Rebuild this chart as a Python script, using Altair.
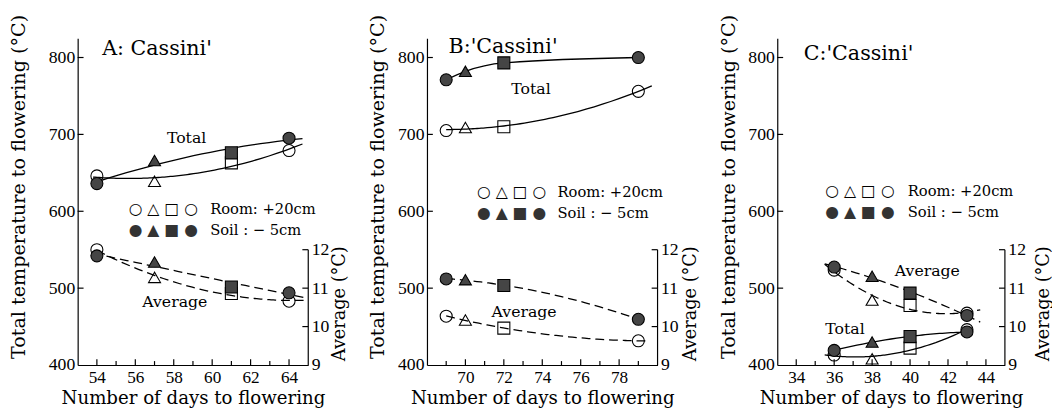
import altair as alt
import pandas as pd

# ---------------- data ----------------
panel_names = ["A: Cassini'", "B:'Cassini'", "C:'Cassini'"]
marker_keys = ["circle1", "triangle", "square", "circle2"]
locations = ["Room", "Soil"]

A_days = [54, 57, 61, 64]
A_room_total = [646, 639, 663, 679]
A_soil_total = [636, 666, 676, 695]
A_room_avg = [12.0, 11.28, 10.86, 10.66]
A_soil_avg = [11.84, 11.68, 11.03, 10.88]

B_days = [69, 70, 72, 79]
B_room_total = [705, 709, 710, 756]
B_soil_total = [771, 782, 793, 800]
B_room_avg = [10.27, 10.17, 9.96, 9.63]
B_soil_avg = [11.24, 11.22, 11.07, 10.19]

C_days = [36, 38, 40, 43]
C_room_total = [413, 408, 422, 446]
C_soil_total = [419, 430, 437, 443]
C_room_avg = [11.47, 10.69, 10.55, 10.35]
C_soil_avg = [11.55, 11.31, 10.87, 10.29]

x_domains = [[53, 65], [68, 80], [33, 45]]
x_tick_labels = [[54, 56, 58, 60, 62, 64], [70, 72, 74, 76, 78], [34, 36, 38, 40, 42, 44]]
total_ticks = [400, 500, 600, 700, 800]
avg_ticks = [9, 10, 11, 12]
total_domain = [400, 825]
avg_domain = [9, 17.5]

legend_symbols = ["○ △ □ ○", "● ▲ ■ ●"]
legend_labels = ["Room: +20cm", "Soil  : − 5cm"]
curve_labels = ["Total", "Average"]
x_title = "Number of days to flowering"
y_title = "Total temperature to flowering (°C)"
y2_title = "Average (°C)"

# ---------------- layout / style (per panel) ----------------
H = 333
SERIF = "DejaVu Serif"
LABELFONT = "Liberation Serif"
panel_cfg = [
    dict(w=235, tp=20.5, rtp=20, title=(25, 11), total=(111, 102), avg=(99, 269),
         leg=(52, 174, 195, 135),
         ext=dict(rt=[53.8, 64.7], st=[53.8, 64.7], ra=[54.0, 64.8], sa=[53.8, 64.8]),
         interp=[]),
    dict(w=235, tp=10.5, rtp=22, title=(22, 9), total=(106, 52), avg=(99, 279),
         leg=(51, 157, 178, 133),
         ext=dict(rt=[69, 79.7], st=[69, 79.8], ra=[69, 79.6], sa=[69, 79]),
         interp=["st"]),
    dict(w=232, tp=9.5, rtp=27, title=(27, 16), total=(69, 296), avg=(153, 237),
         leg=(49, 156, 177, 133),
         ext=dict(rt=[35.5, 43.2], st=[35.7, 43.2], ra=[35.5, 43.7], sa=[35.5, 43.7]),
         interp=[]),
]

AXIS_STYLE = dict(labelFont=LABELFONT, labelColor="black",
                  titleFont=SERIF, titleFontWeight="normal", titleColor="black",
                  domainColor="black", domainWidth=1.2, grid=False, ticks=False, tickSize=0)


def text_layer(txt, px, py, size, font=SERIF, align="left", color="black"):
    df = pd.DataFrame({"t": [txt]})
    return alt.Chart(df).mark_text(
        align=align, baseline="middle", font=font, fontSize=size, color=color
    ).encode(x=alt.value(px), y=alt.value(py), text="t:N")


def build_panel(i, days, room_total, soil_total, room_avg, soil_avg):
    cfg = panel_cfg[i]
    W = cfg["w"]
    X = alt.X("day:Q", scale=alt.Scale(domain=x_domains[i], nice=False, zero=False),
              axis=alt.Axis(values=x_tick_labels[i], title=x_title, labelPadding=3.5,
                            labelFontSize=17.5, titlePadding=3.6, titleFontSize=18.5,
                            format="d", labelFlush=False, **AXIS_STYLE))
    YT = alt.Y("total:Q", scale=alt.Scale(domain=total_domain, nice=False, zero=False),
               axis=alt.Axis(values=total_ticks, title=y_title, labelPadding=3, labelFontSize=18,
                             titlePadding=cfg["tp"], titleY=151, titleAlign="center",
                             titleFontSize=19.5, **AXIS_STYLE))
    YA = alt.Y("avg:Q", scale=alt.Scale(domain=avg_domain, nice=False, zero=False),
               axis=alt.Axis(orient="right", values=avg_ticks, domain=False, title=y2_title,
                             titleFontSize=18, titleAngle=270, titleY=270, titleAlign="center",
                             labelPadding=3, labelFontSize=18, titlePadding=cfg["rtp"],
                             **AXIS_STYLE))

    shape = alt.Shape("mk:N", scale=alt.Scale(domain=marker_keys,
                      range=["circle", "triangle-up", "square", "circle"]), legend=None)
    size = alt.Size("mk:N", scale=alt.Scale(domain=marker_keys, range=[150, 150, 105, 150]),
                    legend=None)
    fill = alt.Fill("loc:N", scale=alt.Scale(domain=locations, range=["transparent", "#454545"]),
                    legend=None)

    def curve(key, vals, field, Y, dash=None):
        df = pd.DataFrame({"day": days, field: vals})
        kw = dict(color="black", strokeWidth=1.3)
        if dash:
            kw["strokeDash"] = dash
        if key in cfg["interp"]:
            return alt.Chart(df).mark_line(interpolate="monotone", **kw).encode(x=X, y=Y)
        return alt.Chart(df).transform_regression(
            "day", field, method="poly", order=2, extent=cfg["ext"][key]
        ).mark_line(**kw).encode(x=X, y=Y)

    def points(rv, sv, field, Y):
        df = pd.DataFrame({"day": days * 2, field: rv + sv,
                           "loc": ["Room"] * 4 + ["Soil"] * 4, "mk": marker_keys * 2})
        return alt.Chart(df).mark_point(filled=True, stroke="black", strokeWidth=1.1,
                                        opacity=1).encode(x=X, y=Y, shape=shape, size=size, fill=fill)

    lo, hi = x_domains[i]
    minor = [d for d in range(lo + 1, hi) if d not in x_tick_labels[i]]

    xt_major = alt.Chart(pd.DataFrame({"day": x_tick_labels[i]})).mark_rule(
        color="black", strokeWidth=1.2).encode(x=X, y=alt.value(H), y2=alt.value(H - 6))
    xt_minor = alt.Chart(pd.DataFrame({"day": minor})).mark_rule(
        color="black", strokeWidth=1.2).encode(x=X, y=alt.value(H), y2=alt.value(H - 4))
    yt_left = alt.Chart(pd.DataFrame({"total": total_ticks[1:]})).mark_rule(
        color="black", strokeWidth=1.2).encode(y=YT, x=alt.value(0), x2=alt.value(6))

    yr_line = alt.Chart(pd.DataFrame({"avg": [avg_ticks[0]], "avg_end": [avg_ticks[-1]]})).mark_rule(
        color="black", strokeWidth=1.2).encode(y=YA, y2="avg_end:Q", x=alt.value(W))
    yr_ticks = alt.Chart(pd.DataFrame({"avg": avg_ticks[1:]})).mark_rule(
        color="black", strokeWidth=1.2).encode(y=YA, x=alt.value(W - 6), x2=alt.value(W))

    lx, ly1, ly2, lbx = cfg["leg"]
    total_group = alt.layer(
        curve("rt", room_total, "total", YT),
        curve("st", soil_total, "total", YT),
        points(room_total, soil_total, "total", YT),
        yt_left, xt_major, xt_minor,
        text_layer(panel_names[i], cfg["title"][0], cfg["title"][1], 21),
        text_layer(curve_labels[0], cfg["total"][0], cfg["total"][1], 16, align="center"),
        text_layer(curve_labels[1], cfg["avg"][0], cfg["avg"][1], 16, align="center"),
        text_layer(legend_symbols[0], lx, ly1, 16, font="DejaVu Sans"),
        text_layer(legend_symbols[1], lx, ly2, 16, font="DejaVu Sans", color="#333333"),
        text_layer(legend_labels[0], lbx, ly1, 15),
        text_layer(legend_labels[1], lbx, ly2, 15),
    )
    avg_group = alt.layer(
        curve("ra", room_avg, "avg", YA, dash=[9, 5]),
        curve("sa", soil_avg, "avg", YA, dash=[9, 5]),
        points(room_avg, soil_avg, "avg", YA),
        yr_line, yr_ticks,
    )
    return alt.layer(total_group, avg_group).resolve_scale(y="independent").properties(
        width=W, height=H)


pA = build_panel(0, A_days, A_room_total, A_soil_total, A_room_avg, A_soil_avg)
pB = build_panel(1, B_days, B_room_total, B_soil_total, B_room_avg, B_soil_avg)
pC = build_panel(2, C_days, C_room_total, C_soil_total, C_room_avg, C_soil_avg)

chart = alt.hconcat(pA, pB, pC, spacing=19).properties(
    padding={"left": 0, "top": 2, "right": 0, "bottom": 0}
).configure(font=SERIF).configure_view(stroke=None).configure_axis(
    labelFont=LABELFONT, labelColor="black",
    titleFont=SERIF, titleFontWeight="normal", titleColor="black",
    domainColor="black", domainWidth=1.2, grid=False, ticks=False, tickSize=0,
)

chart.save("out.html", embed_options={"renderer": "svg", "actions": False})
